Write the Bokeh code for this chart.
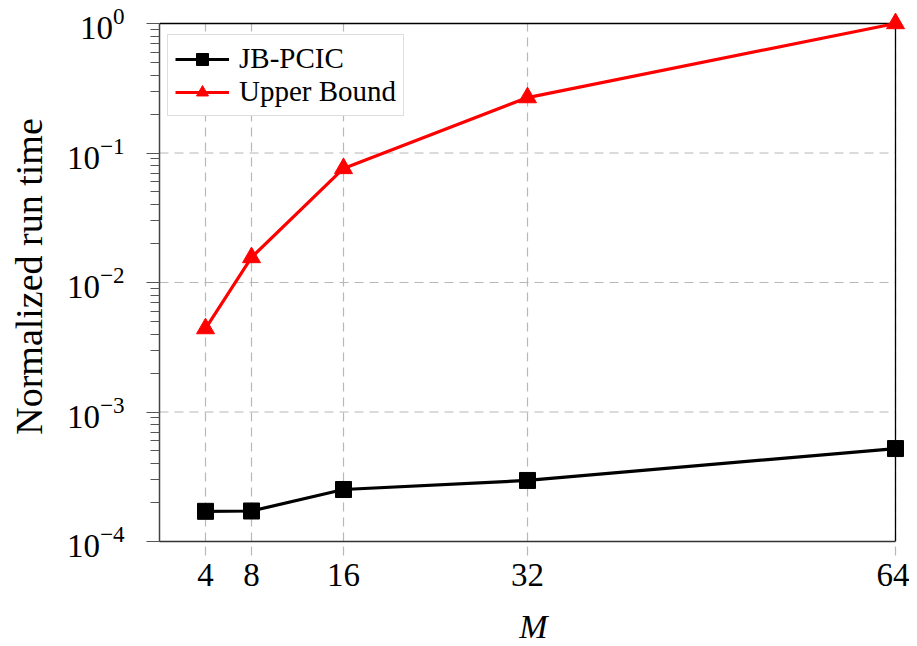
from bokeh.plotting import figure
from bokeh.models import Range1d, FixedTicker, LogTicker, Legend, LegendItem, ColumnDataSource
from bokeh.embed import file_html
from bokeh.resources import INLINE
import math

# ---- data ----
M = [4, 8, 16, 32, 64]
jb_pcic = [1.71e-4, 1.72e-4, 2.52e-4, 2.96e-4, 5.22e-4]
upper_bound = [4.41e-3, 1.56e-2, 7.6e-2, 0.268, 1.0]
x_ticks = [4, 8, 16, 32, 64]
y_decades = [1e-4, 1e-3, 1e-2, 1e-1, 1.0]
x_lim = (0, 64)
y_lim = (1e-4, 1.0)
x_label = "M"
y_label = "Normalized run time"
series_names = ["JB-PCIC", "Upper Bound"]

FONT = "Liberation Serif"
FW, FH, PAD = 736, 518, 12   # visible axis box size and extra room so edge markers are not cut

x_end = x_lim[0] + (x_lim[1] - x_lim[0]) * (FW + PAD) / FW
ly0, ly1 = math.log10(y_lim[0]), math.log10(y_lim[1])
y_end = 10 ** (ly0 + (ly1 - ly0) * (FH + PAD) / FH)

p = figure(frame_width=FW + PAD, frame_height=FH + PAD,
           y_axis_type="log",
           x_range=Range1d(x_lim[0], x_end), y_range=Range1d(y_lim[0], y_end),
           output_backend="svg", toolbar_location=None,
           min_border_left=159, min_border_top=23 - PAD,
           min_border_right=2, min_border_bottom=97)

p.background_fill_color = "white"
p.border_fill_color = "white"
p.outline_line_color = None
p.xgrid.visible = False
p.ygrid.visible = False

GRID_COLOR = "#b8b8b8"
GRID_DASH = "9 6"

# grid lines (restricted to the axis box)
p.segment(x0=x_ticks, y0=[y_lim[0]] * len(x_ticks), x1=x_ticks, y1=[y_lim[1]] * len(x_ticks),
          line_color=GRID_COLOR, line_dash=GRID_DASH, line_width=1.2)
p.segment(x0=[x_lim[0]] * len(y_decades), y0=y_decades, x1=[x_lim[1]] * len(y_decades), y1=y_decades,
          line_color=GRID_COLOR, line_dash=GRID_DASH, line_width=1.2)

# x axis
xa = p.xaxis[0]
xa.bounds = x_lim
xa.ticker = FixedTicker(ticks=x_ticks)
xa.axis_label = x_label
xa.axis_label_text_font = FONT
xa.axis_label_text_font_style = "italic"
xa.axis_label_text_font_size = "34px"
xa.axis_label_text_color = "black"
xa.axis_label_standoff = 19
xa.major_label_text_font = FONT
xa.major_label_text_font_size = "33px"
xa.major_label_text_color = "black"
xa.major_label_standoff = 8
xa.major_tick_out = 14
xa.major_tick_in = 0
xa.major_tick_line_color = GRID_COLOR
xa.major_tick_line_dash = GRID_DASH
xa.major_tick_line_width = 1.2
xa.minor_tick_line_color = None
xa.axis_line_color = "#333333"
xa.axis_line_width = 1.3

# y axis
ya = p.yaxis[0]
ya.bounds = y_lim
ya.ticker = LogTicker(num_minor_ticks=10)
ya.axis_label = y_label
ya.axis_label_text_font = FONT
ya.axis_label_text_font_style = "normal"
ya.axis_label_text_font_size = "38px"
ya.axis_label_text_color = "black"
ya.axis_label_standoff = 14
ya.major_label_text_font = FONT
ya.major_label_text_font_size = "33px"
ya.major_label_text_color = "black"
ya.major_label_standoff = 22
ya.major_tick_out = 13
ya.major_tick_in = 0
ya.minor_tick_out = 9
ya.minor_tick_in = 0
ya.major_tick_line_color = "#555555"
ya.minor_tick_line_color = "#555555"
ya.axis_line_color = "#444444"
ya.axis_line_width = 1.5

# top and right edges of the axis box
p.segment(x0=[x_lim[0], x_lim[1]], y0=[y_lim[1], y_lim[0]], x1=[x_lim[1], x_lim[1]], y1=[y_lim[1], y_lim[1]],
          line_color="black", line_width=1.3)

src_jb = ColumnDataSource(dict(x=M, y=jb_pcic))
src_ub = ColumnDataSource(dict(x=M, y=upper_bound))

l1 = p.line("x", "y", source=src_jb, line_color="black", line_width=3.2)
m1 = p.scatter("x", "y", source=src_jb, marker="square", size=16,
               fill_color="black", line_color="black")
l2 = p.line("x", "y", source=src_ub, line_color="#ff0000", line_width=3.2)
m2 = p.scatter("x", "y", source=src_ub, marker="triangle", size=18,
               fill_color="#ff0000", line_color="#ff0000")

legend = Legend(items=[LegendItem(label=series_names[0], renderers=[l1, m1]),
                       LegendItem(label=series_names[1], renderers=[l2, m2])],
                location=(8, 425))
legend.margin = 0
legend.padding = 7
legend.spacing = 0
legend.glyph_width = 54
legend.glyph_height = 30
legend.label_standoff = 10
legend.label_text_font = FONT
legend.label_text_font_size = "29px"
legend.label_text_color = "black"
legend.border_line_color = "#bdbdbd"
legend.border_line_width = 1.2
legend.background_fill_alpha = 1.0
p.add_layout(legend)

open("out.html", "w").write(file_html(p, INLINE))
